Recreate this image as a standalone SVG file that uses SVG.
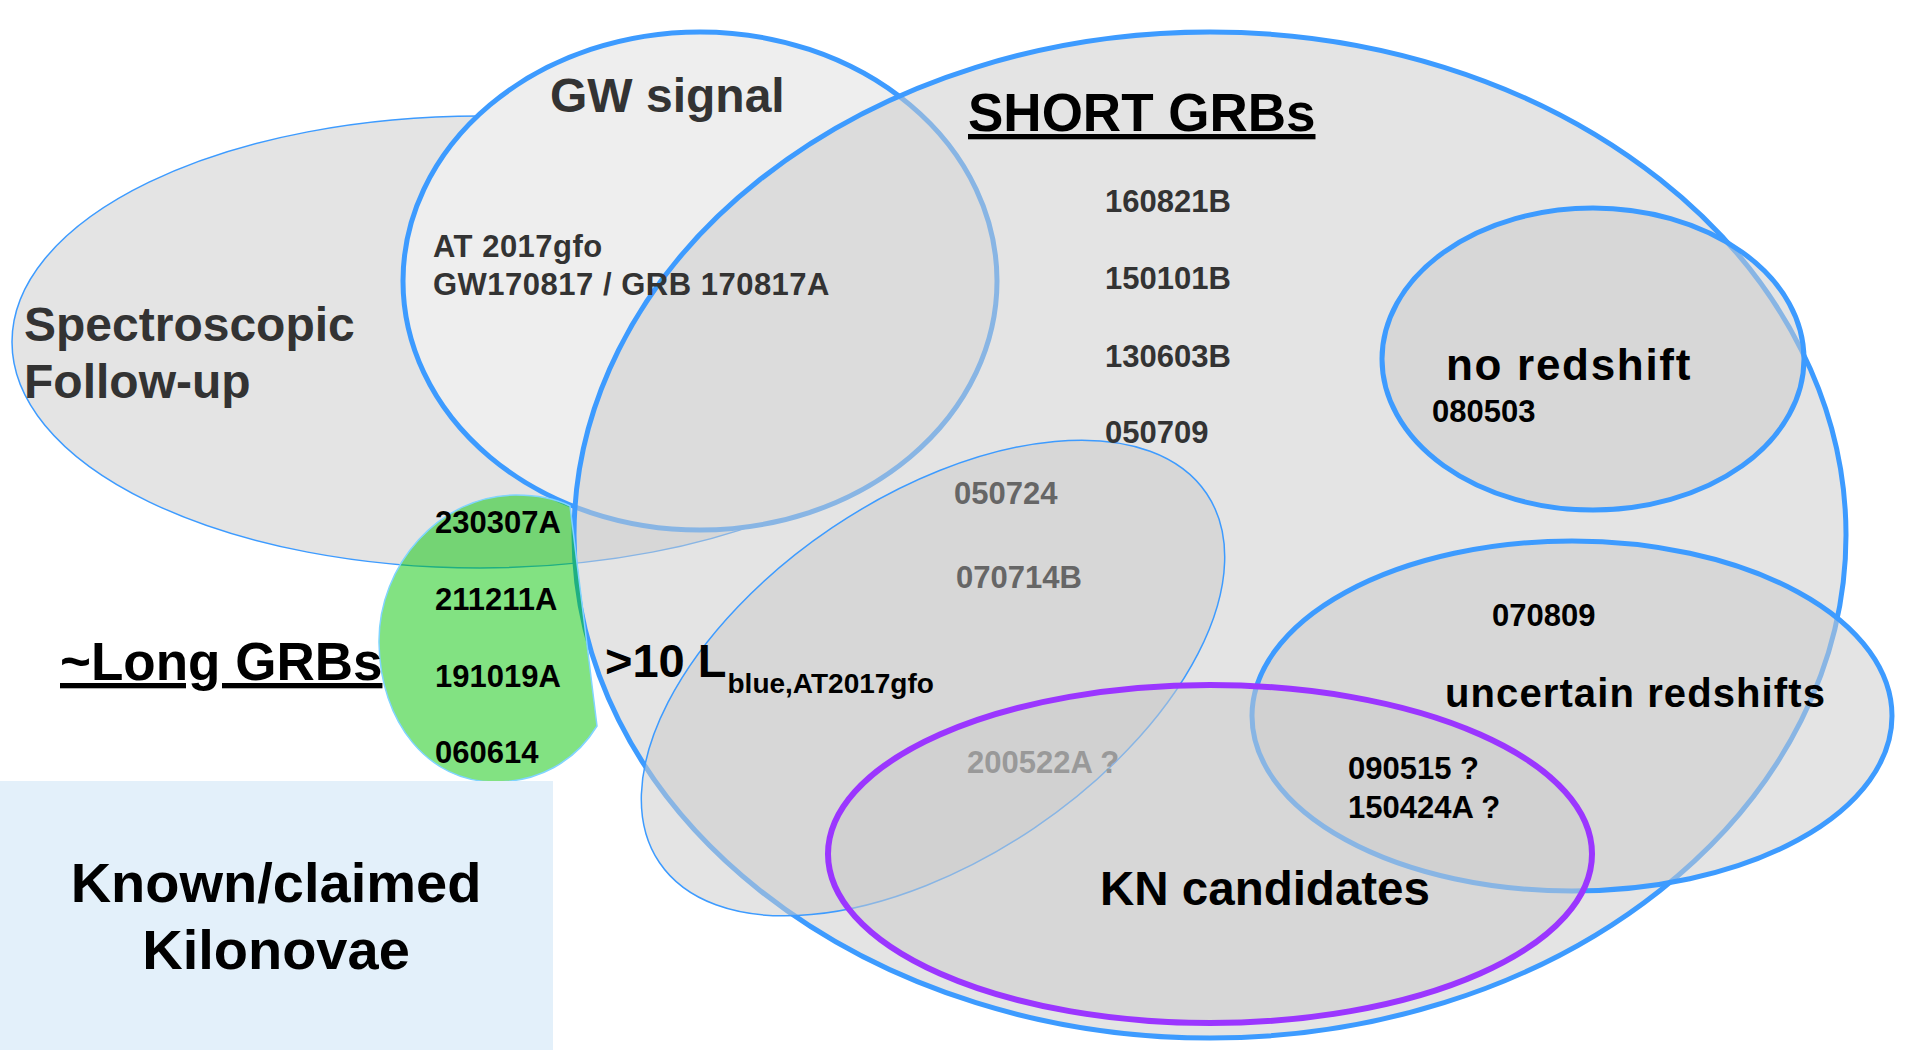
<svg xmlns="http://www.w3.org/2000/svg" width="1905" height="1050" viewBox="0 0 1905 1050">
<style>
text { font-family: "Liberation Sans", Arial, sans-serif; font-weight: bold; }
.set { fill: #cccccc; fill-opacity: 0.53; stroke: #3d9bff; }
.thick { stroke-width: 5; }
.thin { stroke-width: 1.5; }
.dk { fill: #333333; }
.bk { fill: #000000; }
.g6 { fill: #666666; }
.g9 { fill: #999999; }
.ul { text-decoration: underline; }
</style>
<rect width="1905" height="1050" fill="#ffffff"/>
<g id="spectroscopic-followup"><ellipse cx="480" cy="342" rx="468" ry="226" fill="#e4e4e4" stroke="#3d9bff" stroke-width="1.5"/></g>
<g id="gw-signal"><ellipse cx="700" cy="281" rx="297" ry="249" fill="#eeeeee" stroke="#3d9bff" stroke-width="5"/></g>
<g id="short-grbs"><ellipse class="set thick" cx="1210" cy="535" rx="636" ry="503"/></g>
<g id="long-grbs"><path d="M 570 506 L 597 726 C 575 762 538 782 495 782 C 428 782 380 722 379 643 C 378 565 440 495 516 495 C 538 495 556 499 570 506 Z" fill="#00c400" fill-opacity="0.49" stroke="#80d4ff" stroke-width="1.5"/></g>
<g id="blue-luminosity"><ellipse class="set thin" cx="0" cy="0" rx="330" ry="181" transform="translate(933 678) rotate(-34)"/></g>
<g id="no-redshift"><ellipse class="set thick" cx="1593" cy="359" rx="211" ry="151"/></g>
<g id="uncertain-redshifts"><ellipse class="set thick" cx="1572" cy="716" rx="320" ry="175"/></g>
<g id="kn-candidates"><ellipse cx="1210" cy="854" rx="382" ry="169" fill="#cccccc" fill-opacity="0.53" stroke="#9b36ff" stroke-width="6"/></g>
<g id="known-claimed-kilonovae"><rect x="0" y="781" width="553" height="269" fill="#e3f0fa"/></g>
<g id="connectors"></g>
<g id="labels">
<text class="dk" x="550" y="112" font-size="48">GW signal</text>
<text class="bk ul" x="968" y="131" font-size="53">SHORT GRBs</text>
<text class="dk" x="24" y="341" font-size="48">Spectroscopic</text>
<text class="dk" x="24" y="398" font-size="48">Follow-up</text>
<text class="dk" x="433" y="257" font-size="31" letter-spacing="0.5">AT 2017gfo</text>
<text class="dk" x="433" y="295" font-size="31" letter-spacing="0.5">GW170817 / GRB 170817A</text>
<text class="dk" x="1105" y="212" font-size="31">160821B</text>
<text class="dk" x="1105" y="289" font-size="31">150101B</text>
<text class="dk" x="1105" y="367" font-size="31">130603B</text>
<text class="dk" x="1105" y="443" font-size="31">050709</text>
<text class="g6" x="954" y="504" font-size="31">050724</text>
<text class="g6" x="956" y="588" font-size="31">070714B</text>
<text class="g9" x="967" y="773" font-size="31">200522A ?</text>
<text class="bk" x="605" y="677" font-size="47">&gt;10 L<tspan font-size="28" dx="1" dy="16">blue,AT2017gfo</tspan></text>
<text class="bk ul" x="60" y="680" font-size="53">~Long GRBs</text>
<text class="bk" x="435" y="533" font-size="31">230307A</text>
<text class="bk" x="435" y="610" font-size="31">211211A</text>
<text class="bk" x="435" y="687" font-size="31">191019A</text>
<text class="bk" x="435" y="763" font-size="31">060614</text>
<text class="bk" x="1446" y="380" font-size="44" letter-spacing="1.7">no redshift</text>
<text class="bk" x="1432" y="422" font-size="31">080503</text>
<text class="bk" x="1492" y="626" font-size="31">070809</text>
<text class="bk" x="1445" y="707" font-size="40" letter-spacing="1.1">uncertain redshifts</text>
<text class="bk" x="1348" y="779" font-size="31">090515 ?</text>
<text class="bk" x="1348" y="818" font-size="31">150424A ?</text>
<text class="bk" x="1100" y="905" font-size="47.5">KN candidates</text>
<text class="bk" x="276" y="902" font-size="56" text-anchor="middle">Known/claimed</text>
<text class="bk" x="276" y="969" font-size="56" text-anchor="middle">Kilonovae</text>
</g>
</svg>
